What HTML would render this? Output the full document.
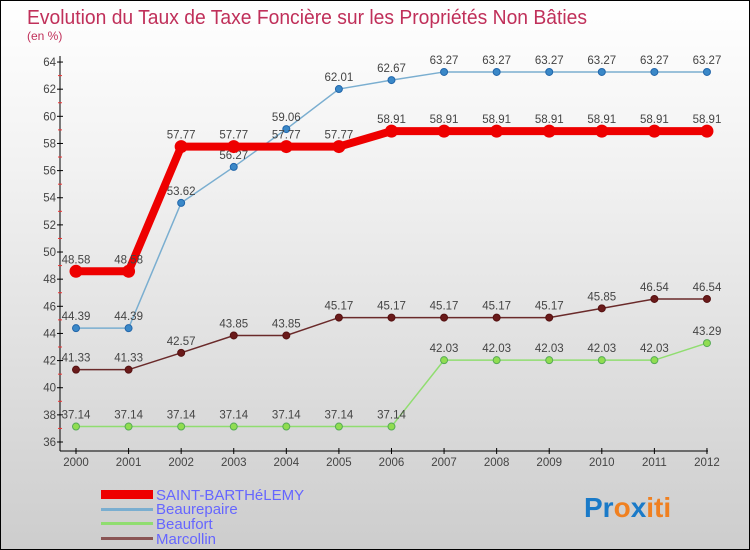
<!DOCTYPE html>
<html><head><meta charset="utf-8"><style>
body{margin:0}
#c{width:748px;height:548px;border:1px solid #000;background:linear-gradient(#fff,#f2f2f2 30%,#cdcdcd);position:relative;font-family:"Liberation Sans",sans-serif;overflow:hidden}
</style></head><body>
<div id="c">
<svg id="s" width="748" height="548" xmlns="http://www.w3.org/2000/svg">
<text x="26" y="23" font-size="20" fill="#c0305a" textLength="560" lengthAdjust="spacingAndGlyphs">Evolution du Taux de Taxe Foncière sur les Propriétés Non Bâties</text>
<text x="26" y="39" font-size="12" fill="#c0305a">(en %)</text>
<g id="axes"></g><g id="series"></g>
<g>
<rect x="100" y="489" width="52" height="9" fill="#e00"/>
<text x="155" y="499" font-size="15" fill="#66f">SAINT-BARTHéLEMY</text>
<rect x="100" y="507" width="52" height="3" fill="#7aaed0"/>
<text x="155" y="513" font-size="15" fill="#66f">Beaurepaire</text>
<rect x="100" y="521" width="52" height="3" fill="#90dd70"/>
<text x="155" y="528" font-size="15" fill="#66f">Beaufort</text>
<rect x="100" y="536" width="52" height="3" fill="#8a5555"/>
<text x="155" y="543" font-size="15" fill="#66f">Marcollin</text>
</g>
<text x="583" y="516" font-size="28" font-weight="bold"><tspan fill="#1a7ac8">Pr</tspan><tspan fill="#f08020">o</tspan><tspan fill="#1a7ac8">x</tspan><tspan fill="#f08020">iti</tspan></text>
</svg></div>
<script>
const years=["2000","2001","2002","2003","2004","2005","2006","2007","2008","2009","2010","2011","2012"];
const sbVals=[48.58,48.58,57.77,57.77,57.77,57.77,58.91,58.91,58.91,58.91,58.91,58.91,58.91];
const beaurepaireVals=[44.39,44.39,53.62,56.27,59.06,62.01,62.67,63.27,63.27,63.27,63.27,63.27,63.27];
const beaufortVals=[37.14,37.14,37.14,37.14,37.14,37.14,37.14,42.03,42.03,42.03,42.03,42.03,43.29];
const marcollinVals=[41.33,41.33,42.57,43.85,43.85,45.17,45.17,45.17,45.17,45.17,45.85,46.54,46.54];
const yTicks=[36,38,40,42,44,46,48,50,52,54,56,58,60,62,64];
const NS="http://www.w3.org/2000/svg";
const X=i=>75+i*52.58, Y=v=>441-(v-36)*13.57;
function mk(p,t,a){const e=document.createElementNS(NS,t);for(const k in a)e.setAttribute(k,a[k]);p.appendChild(e);return e;}
const ax=document.getElementById('axes');
let l=mk(ax,'line',{x1:59,y1:55,x2:59,y2:450,stroke:'#000'});


l=mk(ax,'line',{x1:59,y1:450,x2:707,y2:450,stroke:'#000'});


yTicks.forEach(v=>{
  mk(ax,'line',{x1:56,x2:62,y1:Y(v),y2:Y(v),stroke:'#000'});
  if(v<64)mk(ax,'line',{x1:57,x2:61,y1:Y(v+1),y2:Y(v+1),stroke:'#e33'});
  const t=mk(ax,'text',{x:55,y:Y(v)+4,'font-size':11.5,fill:'#444','text-anchor':'end'});
  t.textContent=v;
  
  
});
years.forEach((y,i)=>{
  mk(ax,'line',{x1:X(i),x2:X(i),y1:447,y2:453,stroke:'#000'});
  const t=mk(ax,'text',{x:X(i),y:465,'font-size':11.5,fill:'#444','text-anchor':'middle'});
  t.textContent=y;
  
  
});
const sg=document.getElementById('series');
function series(vals,name,color,w,r,dot,dstroke){
  const g=mk(sg,'g',{});
  
  
  mk(g,'polyline',{points:vals.map((v,i)=>X(i)+','+Y(v)).join(' '),fill:'none',stroke:color,'stroke-width':w});
  vals.forEach((v,i)=>{
    const c=mk(g,'circle',{cx:X(i),cy:Y(v),r:r,fill:dot,stroke:dstroke});
    
    
    const t=mk(g,'text',{x:X(i),y:Y(v)-8,'font-size':11.5,fill:'#444','text-anchor':'middle'});
    t.textContent=v.toFixed(2);
    
    
  });
}
series(beaufortVals,'beaufort','#90dd70',1.5,3.5,'#90dd50','#5a5');
series(marcollinVals,'marcollin','#6a2a2a',1.5,3.5,'#6a1a1a','#511');
series(beaurepaireVals,'beaurepaire','#7aaed0',1.5,3.5,'#3a88c8','#26a');
series(sbVals,'saint-barthelemy','#e00',8,6,'#e00','#e00');
</script>
</body></html>
